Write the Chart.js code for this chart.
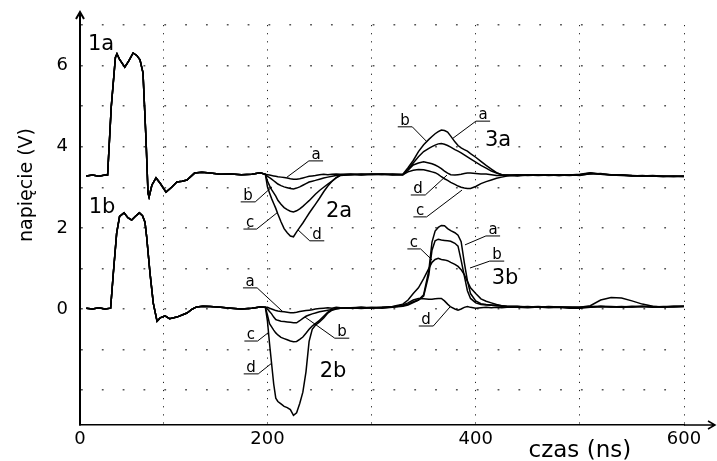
<!DOCTYPE html>
<html>
<head>
<meta charset="utf-8">
<script src="https://cdn.jsdelivr.net/npm/chart.js@4.4.0/dist/chart.umd.min.js"></script>
<style>
  html, body { margin: 0; padding: 0; background: #fff; }
</style>
</head>
<body>
<canvas id="myChart" width="717" height="461"></canvas>
<script>
// pulse 1 (same for all four traces of a group)
const pulseTimeA = [26, 32, 38, 44, 46.5, 50, 54, 55.5, 58, 63, 67, 71, 74.5, 77.6, 80.5, 83.4, 85.3, 86.3, 89, 93,
  97, 102.6, 108, 113, 118, 122.7, 130, 137, 145, 155, 165, 175, 185, 193, 198];
const pulse1a = [3.28, 3.30, 3.27, 3.30, 3.30, 4.98, 6.20, 6.29, 6.15, 5.96, 6.12, 6.31, 6.25, 6.14, 5.82, 4.17, 2.86, 2.76, 3.05, 3.23,
  3.10, 2.88, 3.00, 3.13, 3.15, 3.18, 3.35, 3.37, 3.35, 3.32, 3.33, 3.31, 3.32, 3.36, 3.32];
const pulseTimeB = [26, 32, 38, 44, 49.4, 52, 55.2, 58, 62.3, 66, 69.6, 73, 77, 80, 82.4, 84, 87.2, 90.4, 94, 97,
  101.6, 106, 113, 118, 122.7, 128, 132, 138, 145, 155, 165, 175, 185, 193, 198];
const pulse1b = [0.02, 0.00, 0.03, 0.00, 0.02, 0.88, 1.87, 2.28, 2.37, 2.25, 2.19, 2.28, 2.37, 2.30, 2.14, 1.78, 0.89, 0.14, -0.30, -0.22,
  -0.17, -0.24, -0.20, -0.15, -0.10, 0.00, 0.05, 0.07, 0.06, 0.04, 0.02, 0.00, 0.02, 0.05, 0.04];

// rest of the record, from 200 ns on
const restTime = [200, 202, 204, 206, 208, 210, 213, 216, 219, 222, 225, 228, 231, 234, 237, 240, 243, 246, 250, 254, 258, 262, 266, 270,
  280, 290, 300, 310, 320, 330,
  335, 340, 345, 350, 355, 358, 361, 364, 367, 370, 373, 376, 380, 383, 386, 389, 392, 395, 400, 405, 410, 415, 420, 425, 430,
  440, 450, 460, 470, 480, 490, 500, 510, 520, 530, 540, 550, 560, 570, 580, 590, 600];

const upperA = [3.31, 3.30, 3.29, 3.28, 3.27, 3.26, 3.25, 3.24, 3.23, 3.21, 3.20, 3.20, 3.21, 3.23, 3.25, 3.27, 3.28, 3.29, 3.31, 3.32, 3.31, 3.32, 3.33, 3.32,
  3.33, 3.31, 3.33, 3.32, 3.31, 3.31,
  3.44, 3.60, 3.75, 3.88, 3.96, 4.00, 4.04, 4.07, 4.08, 4.06, 4.03, 3.99, 3.93, 3.89, 3.85, 3.80, 3.75, 3.70, 3.62, 3.54, 3.47, 3.40, 3.35, 3.31, 3.30,
  3.31, 3.30, 3.31, 3.29, 3.30, 3.29, 3.31, 3.35, 3.33, 3.31, 3.30, 3.29, 3.28, 3.28, 3.27, 3.27, 3.27];
const upperB = [3.27, 3.24, 3.20, 3.16, 3.12, 3.08, 3.04, 3.01, 2.99, 2.97, 2.96, 2.98, 3.01, 3.05, 3.09, 3.13, 3.15, 3.17, 3.20, 3.23, 3.25, 3.27, 3.29, 3.30,
  3.31, 3.32, 3.31, 3.33, 3.32, 3.32,
  3.48, 3.66, 3.88, 4.05, 4.18, 4.25, 4.32, 4.37, 4.41, 4.40, 4.36, 4.26, 4.12, 4.03, 3.97, 3.93, 3.89, 3.83, 3.74, 3.64, 3.54, 3.45, 3.36, 3.31, 3.29,
  3.29, 3.31, 3.30, 3.30, 3.29, 3.30, 3.30, 3.33, 3.34, 3.30, 3.29, 3.28, 3.29, 3.27, 3.28, 3.26, 3.27];
const upperC = [3.15, 3.04, 2.94, 2.86, 2.78, 2.68, 2.58, 2.50, 2.45, 2.41, 2.39, 2.42, 2.47, 2.53, 2.60, 2.67, 2.75, 2.83, 2.92, 3.00, 3.08, 3.15, 3.23, 3.29,
  3.31, 3.33, 3.32, 3.31, 3.33, 3.31,
  3.38, 3.42, 3.44, 3.43, 3.40, 3.38, 3.36, 3.32, 3.26, 3.21, 3.17, 3.12, 3.07, 3.03, 3.00, 2.98, 2.97, 2.97, 3.02, 3.09, 3.14, 3.18, 3.22, 3.25, 3.28,
  3.30, 3.29, 3.30, 3.31, 3.29, 3.31, 3.29, 3.34, 3.32, 3.30, 3.31, 3.29, 3.28, 3.29, 3.27, 3.28, 3.26];
const upperD = [3.01, 2.86, 2.72, 2.60, 2.48, 2.34, 2.15, 1.98, 1.88, 1.80, 1.78, 1.90, 2.01, 2.12, 2.24, 2.36, 2.47, 2.58, 2.73, 2.89, 3.03, 3.15, 3.24, 3.30,
  3.32, 3.30, 3.32, 3.33, 3.30, 3.31,
  3.42, 3.55, 3.60, 3.63, 3.60, 3.58, 3.55, 3.51, 3.46, 3.40, 3.35, 3.31, 3.30, 3.31, 3.32, 3.34, 3.35, 3.35, 3.34, 3.33, 3.33, 3.31, 3.29, 3.29, 3.30,
  3.28, 3.30, 3.29, 3.30, 3.31, 3.30, 3.32, 3.36, 3.32, 3.31, 3.30, 3.28, 3.28, 3.28, 3.26, 3.27, 3.28];

const lowerA = [0.04, 0.02, 0.00, -0.02, -0.04, -0.05, -0.06, -0.07, -0.08, -0.09, -0.09, -0.08, -0.06, -0.05, -0.04, -0.03, -0.02, 0.00, 0.01, 0.02, 0.03, 0.02, 0.04, 0.03,
  0.02, 0.04, 0.02, 0.03, 0.05, 0.08,
  0.12, 0.18, 0.22, 0.35, 0.95, 1.65, 1.92, 2.01, 2.06, 2.05, 1.98, 1.93, 1.88, 1.82, 1.66, 1.15, 0.70, 0.38, 0.20, 0.13, 0.11, 0.10, 0.09, 0.08, 0.07,
  0.07, 0.05, 0.06, 0.04, 0.05, 0.04, 0.05, 0.04, 0.06, 0.05, 0.06, 0.05, 0.07, 0.05, 0.06, 0.06, 0.07];
const lowerB = [0.00, -0.06, -0.12, -0.20, -0.26, -0.28, -0.30, -0.31, -0.32, -0.33, -0.34, -0.34, -0.29, -0.23, -0.18, -0.15, -0.12, -0.10, -0.07, -0.05, -0.03, -0.01, 0.01, 0.02,
  0.03, 0.02, 0.04, 0.02, 0.04, 0.07,
  0.10, 0.16, 0.22, 0.32, 0.85, 1.45, 1.68, 1.72, 1.70, 1.69, 1.68, 1.67, 1.62, 1.55, 1.20, 0.82, 0.45, 0.26, 0.15, 0.11, 0.10, 0.09, 0.08, 0.07, 0.06,
  0.06, 0.04, 0.05, 0.05, 0.04, 0.03, 0.04, 0.08, 0.22, 0.28, 0.27, 0.20, 0.12, 0.07, 0.05, 0.06, 0.07];
const lowerC = [-0.15, -0.36, -0.44, -0.52, -0.59, -0.64, -0.70, -0.73, -0.76, -0.79, -0.81, -0.80, -0.75, -0.69, -0.60, -0.50, -0.42, -0.36, -0.28, -0.18, -0.08, -0.02, 0.01, 0.02,
  0.03, 0.01, 0.03, 0.04, 0.06, 0.12,
  0.22, 0.38, 0.52, 0.75, 1.00, 1.15, 1.22, 1.25, 1.22, 1.21, 1.19, 1.15, 1.10, 1.05, 0.97, 0.85, 0.68, 0.52, 0.38, 0.25, 0.19, 0.15, 0.11, 0.08, 0.06,
  0.05, 0.06, 0.04, 0.06, 0.05, 0.05, 0.03, 0.06, 0.07, 0.06, 0.05, 0.07, 0.06, 0.06, 0.05, 0.07, 0.06];
const lowerD = [-0.30, -0.85, -1.35, -1.85, -2.20, -2.28, -2.34, -2.40, -2.43, -2.48, -2.62, -2.56, -2.33, -2.05, -1.55, -0.80, -0.50, -0.40, -0.32, -0.22, -0.10, -0.03, 0.00, 0.02,
  0.03, 0.04, 0.03, 0.04, 0.05, 0.10,
  0.15, 0.22, 0.26, 0.25, 0.24, 0.24, 0.25, 0.26, 0.26, 0.20, 0.12, 0.05, 0.00, -0.03, 0.00, 0.04, 0.06, 0.04, 0.02, 0.03, 0.04, 0.03, 0.04, 0.03, 0.04,
  0.04, 0.03, 0.05, 0.03, 0.04, 0.02, 0.02, 0.04, 0.06, 0.05, 0.04, 0.05, 0.06, 0.04, 0.05, 0.05, 0.06];

// axes
const xTicks = [20, 100, 200, 300, 400, 500, 600];
const xTickLabels = ['0', '', '200', '', '400', '', '600'];
const yTicks = [-2, -1, 0, 1, 2, 3, 4, 5, 6, 7];
const yTickLabels = ['', '', '0', '', '2', '', '4', '', '6', ''];

// big pulse names
const bigLabels = ['1a', '1b', '2a', '2b', '3a', '3b'];
const bigLabelX = [40.2, 41.1, 268.7, 263.0, 421.4, 428.1];
const bigLabelY = [6.53, 2.51, 2.39, -1.55, 4.14, 0.76];

// small trace tags with leader lines
const tagText = ['a', 'b', 'c', 'd', 'b', 'a', 'd', 'c', 'a', 'c', 'b', 'd', 'a', 'b', 'c', 'd'];
const tagX = [246.6, 181.3, 183.3, 247.6, 332.1, 407.0, 344.6, 346.5, 416.6, 340.7, 420.4, 352.3, 183.3, 271.6, 184.2, 184.2];
const tagY = [3.65, 2.64, 1.97, 1.68, 4.49, 4.63, 2.81, 2.27, 1.80, 1.48, 1.18, -0.42, 0.52, -0.72, -0.79, -1.60];
const tagToX = [218.8, 204.4, 209.2, 229.3, 353.2, 378.2, 372.4, 386.8, 389.7, 358.0, 394.5, 375.3, 214.9, 236.1, 200.5, 204.4];
const tagToY = [3.25, 3.01, 2.37, 1.95, 4.12, 4.21, 3.30, 2.93, 1.58, 1.21, 1.01, 0.05, -0.07, -0.20, -0.59, -1.33];

const FONT = 'DejaVu Sans';

function trace(times, values) {
  return times.map((t, i) => ({ x: t, y: values[i] }));
}
function line(label, pTime, pVals, vals) {
  return {
    label: label,
    data: trace(pTime, pVals).concat(trace(restTime, vals)),
    borderColor: '#000',
    borderWidth: 1.5,
    pointRadius: 0,
    fill: false,
    tension: 0
  };
}

const datasets = [
  line('a (górny)', pulseTimeA, pulse1a, upperA),
  line('b (górny)', pulseTimeA, pulse1a, upperB),
  line('c (górny)', pulseTimeA, pulse1a, upperC),
  line('d (górny)', pulseTimeA, pulse1a, upperD),
  line('a (dolny)', pulseTimeB, pulse1b, lowerA),
  line('b (dolny)', pulseTimeB, pulse1b, lowerB),
  line('c (dolny)', pulseTimeB, pulse1b, lowerC),
  line('d (dolny)', pulseTimeB, pulse1b, lowerD)
];

const notes = {
  id: 'notes',
  afterDatasetsDraw(chart) {
    const ctx = chart.ctx;
    const a = chart.chartArea;
    const x = chart.scales.x, y = chart.scales.y;
    ctx.save();
    ctx.strokeStyle = '#000';
    ctx.fillStyle = '#000';

    // axis ends with arrows
    ctx.lineWidth = 2;
    ctx.beginPath();
    ctx.moveTo(a.left, a.top);
    ctx.lineTo(a.left, a.top - 13);
    ctx.moveTo(a.left - 4, a.top - 6);
    ctx.lineTo(a.left, a.top - 13);
    ctx.lineTo(a.left + 4, a.top - 6);
    ctx.stroke();
    ctx.lineWidth = 1.5;
    ctx.beginPath();
    ctx.moveTo(a.right, a.bottom);
    ctx.lineTo(a.right + 31, a.bottom);
    ctx.moveTo(a.right + 24, a.bottom - 4);
    ctx.lineTo(a.right + 31, a.bottom);
    ctx.lineTo(a.right + 24, a.bottom + 4);
    ctx.stroke();

    // axis titles
    ctx.font = '23px "' + FONT + '"';
    ctx.textAlign = 'center';
    ctx.textBaseline = 'alphabetic';
    ctx.fillText('czas (ns)', x.getPixelForValue(500), a.bottom + 32);
    ctx.save();
    ctx.translate(32, 185);
    ctx.rotate(-Math.PI / 2);
    ctx.font = '19px "' + FONT + '"';
    ctx.fillText('napięcie (V)', 0, 0);
    ctx.restore();

    // pulse names
    ctx.font = '21px "' + FONT + '"';
    ctx.textBaseline = 'middle';
    bigLabels.forEach((t, i) => {
      ctx.fillText(t, x.getPixelForValue(bigLabelX[i]), y.getPixelForValue(bigLabelY[i]));
    });

    // trace tags
    ctx.font = '15px "' + FONT + '"';
    ctx.textBaseline = 'alphabetic';
    ctx.lineWidth = 1;
    tagText.forEach((t, i) => {
      const cx = x.getPixelForValue(tagX[i]);
      const cy = y.getPixelForValue(tagY[i]);
      const w = ctx.measureText(t).width + 5;
      ctx.fillText(t, cx, cy - 2);
      const l = cx - w / 2, r = cx + w / 2;
      const tx = x.getPixelForValue(tagToX[i]);
      const ty = y.getPixelForValue(tagToY[i]);
      ctx.beginPath();
      ctx.moveTo(l, cy);
      ctx.lineTo(r, cy);
      ctx.moveTo(tx > cx ? r : l, cy);
      ctx.lineTo(tx, ty);
      ctx.stroke();
    });
    ctx.restore();
  }
};

const config = {
  type: 'line',
  data: { datasets: datasets },
  options: {
    responsive: false,
    animation: false,
    devicePixelRatio: 1,
    layout: { padding: { left: 0, right: 33, top: 25, bottom: 0 } },
    plugins: { legend: { display: false }, tooltip: { enabled: false } },
    scales: {
      x: {
        type: 'linear',
        min: 20,
        max: 600,
        afterBuildTicks: s => { s.ticks = xTicks.map(v => ({ value: v })); },
        afterFit: s => { s.height = 36; },
        ticks: {
          autoSkip: false,
          maxRotation: 0,
          padding: 4,
          color: '#000',
          font: { family: FONT, size: 18 },
          callback: (v, i) => xTickLabels[i]
        },
        grid: { color: '#222', lineWidth: 1, drawTicks: false },
        border: { display: true, color: '#000', width: 1.5, dash: [1.2, 6.91] }
      },
      y: {
        min: -2.86,
        max: 7,
        afterBuildTicks: s => { s.ticks = yTicks.map(v => ({ value: v })); },
        afterFit: s => { s.width = 80; },
        ticks: {
          autoSkip: false,
          padding: 12,
          color: '#000',
          font: { family: FONT, size: 18 },
          callback: (v, i) => yTickLabels[i]
        },
        grid: { color: '#555', lineWidth: 1.5, drawTicks: false },
        border: { display: true, color: '#000', width: 2, dash: [1.8, 19.03] }
      }
    }
  },
  plugins: [notes]
};

const myChart = new Chart(document.getElementById('myChart'), config);
</script>
</body>
</html>
